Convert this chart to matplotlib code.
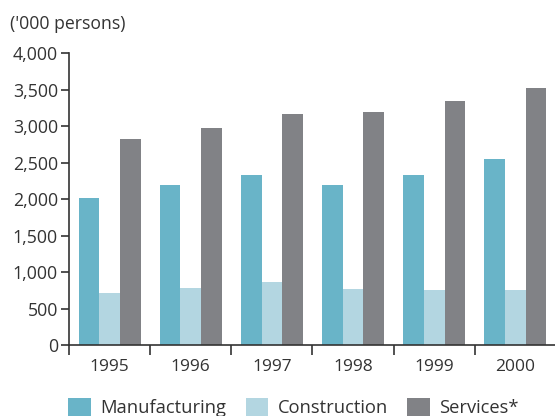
import matplotlib
matplotlib.use("Agg")
import matplotlib.pyplot as plt
import numpy as np
from matplotlib.patches import Patch
from matplotlib.ticker import FuncFormatter, MultipleLocator

years = ["1995", "1996", "1997", "1998", "1999", "2000"]
manufacturing = [2020, 2195, 2330, 2195, 2330, 2550]
construction = [710, 790, 870, 765, 750, 750]
services = [2825, 2975, 3165, 3195, 3345, 3520]
series_names = ["Manufacturing", "Construction", "Services*"]
series_colors = ["#69b4c8", "#b3d6e1", "#818286"]

plt.rcParams["font.family"] = ["Open Sans", "DejaVu Sans"]
text_color = "#333333"

fig = plt.figure(figsize=(5.55, 4.16), dpi=100)
ax = fig.add_axes([69 / 555, (416 - 345.2) / 416, (556 - 69) / 555, (345.2 - 53.2) / 416])

x = np.arange(len(years))
w = 0.254
for i, (vals, col) in enumerate(zip([manufacturing, construction, services], series_colors)):
    ax.bar(x + (i - 1) * w, vals, width=w, color=col, linewidth=0, zorder=2)

ax.set_xlim(-0.5, len(years) - 0.5)
ax.set_ylim(0, 4000)
ax.yaxis.set_major_locator(MultipleLocator(500))
ax.yaxis.set_major_formatter(FuncFormatter(lambda v, p: f"{int(v):,}"))

ax.set_xticks(x)
ax.set_xticklabels(years)
ax.set_xticks(np.arange(len(years)) - 0.5, minor=True)
ax.tick_params(axis="x", which="major", length=0, pad=10, labelsize=12.5, colors=text_color)
ax.tick_params(axis="x", which="minor", length=7, width=1.2, direction="out", color="#333333")
ax.tick_params(axis="y", length=6, width=1.2, direction="out", pad=2, labelsize=12.8,
               colors=text_color, color="#333333")

for side in ["top", "right"]:
    ax.spines[side].set_visible(False)
for side in ["left", "bottom"]:
    ax.spines[side].set_linewidth(1.2)
    ax.spines[side].set_color("#333333")
    ax.spines[side].set_zorder(3)

fig.text(10 / 555, 1 - 24 / 416, "('000 persons)", fontsize=12.7, color=text_color,
         ha="left", va="center")

handles = [Patch(facecolor=c, edgecolor="none") for c in series_colors]
fig.legend(handles, series_names, loc="upper left", bbox_to_anchor=(61 / 555, 1 - 391 / 416),
           ncol=3, frameon=False, fontsize=13.2, handlelength=1.25, handleheight=1.1,
           handletextpad=0.5, columnspacing=1.05, labelcolor=text_color, borderaxespad=0)

fig.savefig("out.png", dpi=100)
